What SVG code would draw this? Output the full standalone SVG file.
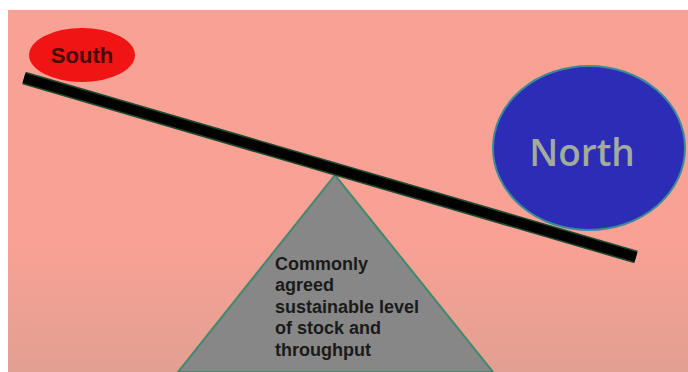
<svg xmlns="http://www.w3.org/2000/svg" width="688" height="372" viewBox="0 0 688 372">
<defs>
<linearGradient id="bg" x1="0" y1="0" x2="0" y2="1">
<stop offset="0" stop-color="#f9a195"/>
<stop offset="0.65" stop-color="#f8a194"/>
<stop offset="1" stop-color="#e2a092"/>
</linearGradient>
</defs>
<style>
.lbl{font-family:"Liberation Sans",Arial,sans-serif;font-weight:bold}
</style>
<rect x="0" y="0" width="688" height="372" fill="#ffffff"/>
<rect x="8" y="10" width="680" height="362" fill="url(#bg)"/>
<g id="fulcrum">
<polygon points="335,175 178,372 493,372" fill="#878787" stroke="#3f8a6c" stroke-width="2"/>
<text class="lbl" font-size="18" fill="#1a1a1a">
<tspan x="275" y="270">Commonly</tspan>
<tspan x="275" y="291">agreed</tspan>
<tspan x="275" y="313">sustainable level</tspan>
<tspan x="275" y="334">of stock and</tspan>
<tspan x="275" y="356">throughput</tspan>
</text>
</g>
<g id="connectors">
<line x1="24" y1="78" x2="636" y2="257" stroke="#1d4a30" stroke-width="13"/>
<line x1="24" y1="78" x2="636" y2="257" stroke="#000000" stroke-width="10"/>
</g>
<g id="south">
<ellipse cx="82" cy="55" rx="53" ry="27" fill="#f01414"/>
<text class="lbl" x="82" y="63" font-size="22" fill="#4a0606" text-anchor="middle">South</text>
</g>
<g id="north">
<ellipse cx="589" cy="148" rx="96" ry="82" fill="#2c2cb6" stroke="#3a8a9a" stroke-width="2"/>
<text x="582" y="166" font-family="'Open Sans','Liberation Sans',sans-serif" font-size="37" font-weight="600" fill="#a3aa9e" text-anchor="middle">North</text>
</g>
</svg>
